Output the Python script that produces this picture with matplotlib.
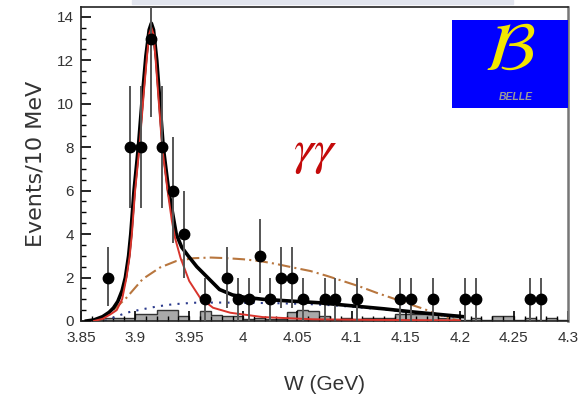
import numpy as np
import matplotlib
matplotlib.use("Agg")
import matplotlib.pyplot as plt
from matplotlib.patches import Rectangle

plt.rcParams['font.family'] = ['Liberation Sans', 'DejaVu Sans']
plt.rcParams['mathtext.fontset'] = 'stix'

# data points (10 MeV bins)
w_points = [3.875, 3.895, 3.905, 3.915, 3.925, 3.935, 3.945, 3.965, 3.985, 3.995,
            4.005, 4.015, 4.025, 4.035, 4.045, 4.055, 4.075, 4.085, 4.105, 4.145,
            4.155, 4.175, 4.205, 4.215, 4.265, 4.275]
n_events = [2, 8, 8, 13, 8, 6, 4, 1, 2, 1,
            1, 3, 1, 2, 2, 1, 1, 1, 1, 1,
            1, 1, 1, 1, 1, 1]
err_low = [1.3, 2.8, 2.8, 3.6, 2.8, 2.4, 2.0, 1.0, 1.4, 1.0,
           1.0, 1.7, 1.0, 1.4, 1.4, 1.0, 1.0, 1.0, 1.0, 1.0,
           1.0, 1.0, 1.0, 1.0, 1.0, 1.0]
err_high = [1.4, 2.8, 2.8, 3.6, 2.8, 2.45, 2.0, 1.0, 1.4, 1.0,
            1.0, 1.7, 1.0, 1.4, 1.4, 1.0, 1.0, 1.0, 1.0, 1.0,
            1.0, 1.0, 1.0, 1.0, 1.0, 1.0]

# sideband histogram (10 MeV bins from 3.85)
hist_vals = [0, 0, 0.12, 0.12, 0.12, 0.34, 0.34, 0.49, 0.49, 0.23,
             0.0, 0.46, 0.28, 0.23, 0.23, 0.10, 0.15, 0.10, 0.10, 0.41,
             0.50, 0.46, 0.23, 0.05, 0.15, 0.10, 0.15, 0.15, 0.15, 0.30,
             0.30, 0.32, 0.30, 0.12, 0.28, 0.03, 0.15, 0.05, 0.23, 0.23,
             0.03, 0.12, 0.05, 0.12, 0.05]

# total fit (black)
fit_x = [3.855, 3.862, 3.870, 3.876, 3.880, 3.884, 3.888, 3.891, 3.894, 3.896,
         3.899, 3.903, 3.907, 3.910, 3.913, 3.915, 3.917, 3.920, 3.923, 3.926,
         3.931, 3.938, 3.943, 3.949, 3.957, 3.967, 3.978, 3.990, 4.000, 4.018,
         4.043, 4.070, 4.100, 4.130, 4.160, 4.190, 4.203]
fit_y = [0.0, 0.05, 0.2, 0.4, 0.6, 0.9, 1.4, 2.0, 3.0, 4.0,
         6.0, 8.0, 10.5, 12.2, 13.4, 13.7, 13.4, 12.0, 10.0, 8.0,
         6.0, 4.0, 3.4, 3.0, 2.5, 2.0, 1.45, 1.2, 1.1, 1.0,
         0.92, 0.84, 0.70, 0.56, 0.40, 0.26, 0.2]

# signal (red)
sig_x = [3.862, 3.870, 3.877, 3.883, 3.888, 3.892, 3.895, 3.897, 3.900, 3.904,
         3.908, 3.911, 3.913, 3.915, 3.917, 3.919, 3.922, 3.925, 3.930, 3.934,
         3.937, 3.942, 3.950, 3.960, 3.972, 3.988, 4.018, 4.064, 4.120, 4.200]
sig_y = [0.0, 0.1, 0.3, 0.5, 1.0, 2.0, 3.0, 4.0, 6.0, 8.0,
         10.5, 12.2, 13.2, 13.5, 13.2, 12.0, 10.0, 8.0, 6.0, 4.6,
         3.8, 2.9, 1.84, 1.07, 0.61, 0.38, 0.18, 0.08, 0.05, 0.03]

# broad component (dash-dot)
broad_x = [3.862, 3.870, 3.880, 3.892, 3.907, 3.923, 3.938, 3.954, 3.970, 3.985,
           4.000, 4.015, 4.030, 4.046, 4.062, 4.077, 4.092, 4.108, 4.123, 4.139,
           4.154, 4.167, 4.179, 4.191, 4.200]
broad_y = [0.0, 0.1, 0.5, 1.07, 1.93, 2.46, 2.76, 2.89, 2.92, 2.89,
           2.84, 2.76, 2.63, 2.46, 2.3, 2.08, 1.84, 1.58, 1.3, 1.03,
           0.77, 0.55, 0.31, 0.12, 0.0]

# background (dotted)
bkg_x = [3.872, 3.877, 3.885, 3.892, 3.900, 3.907, 3.915, 3.923, 3.935, 3.954,
         3.975, 4.000, 4.030, 4.060, 4.080, 4.100, 4.130, 4.160, 4.200]
bkg_y = [0.0, 0.1, 0.25, 0.38, 0.47, 0.54, 0.62, 0.69, 0.77, 0.84,
         0.85, 0.84, 0.82, 0.78, 0.73, 0.66, 0.53, 0.38, 0.17]

x_ticks = [3.85, 3.9, 3.95, 4.0, 4.05, 4.1, 4.15, 4.2, 4.25, 4.3]
x_ticklabels = ["3.85", "3.9", "3.95", "4", "4.05", "4.1", "4.15", "4.2", "4.25", "4.3"]
y_ticks = [0, 2, 4, 6, 8, 10, 12, 14]

fig = plt.figure(figsize=(5.8, 4.0), dpi=100)
ax = fig.add_axes([81 / 580, 1 - 321 / 400, 487 / 580, 314 / 400])

edges = np.round(3.85 + 0.01 * np.arange(len(hist_vals) + 1), 3)
ax.stairs(hist_vals, edges, fill=True, color='#a9a9a9', zorder=1)
ax.stairs(hist_vals, edges, color='#333333', lw=1.0, baseline=0, zorder=1.5)

ax.plot(bkg_x, bkg_y, ls=(0, (1, 3)), color='#2b3a8c', lw=1.5, zorder=2)
ax.plot(broad_x, broad_y, ls=(0, (6, 2, 1, 2)), color='#b8763e', lw=1.5, zorder=2)
ax.plot(fit_x, fit_y, color='black', lw=2.6, zorder=3)
ax.plot(sig_x, sig_y, color='#d8342c', lw=1.4, zorder=3.5)

ax.errorbar(w_points, n_events, yerr=[err_low, err_high], xerr=0.004,
            fmt='o', color='black', ms=7.5, ecolor='#555555', elinewidth=1.4,
            capsize=0, zorder=4)

ax.set_xlim(3.85, 4.3)
ax.set_ylim(0, 14.45)
ax.set_xticks(x_ticks)
ax.set_xticklabels(x_ticklabels)
ax.set_xticks(np.round(np.arange(3.85, 4.30, 0.01), 3), minor=True)
ax.set_yticks(y_ticks)
ax.set_yticks(np.arange(0, 14.5, 0.5), minor=True)
ax.tick_params(axis='both', which='major', direction='in', length=7, width=1.2,
               labelsize=11, labelcolor='#333333', pad=5)
ax.tick_params(axis='both', which='minor', direction='in', length=3.5, width=1)
ax.tick_params(axis='x', pad=7)
for side in ['left', 'bottom', 'top']:
    ax.spines[side].set_color('#222222')
    ax.spines[side].set_linewidth(1.2)
ax.spines['right'].set_color('#777777')
ax.spines['right'].set_linewidth(1.8)

ax.set_xlabel("W (GeV)", fontsize=15, color='#333333', labelpad=22)
ax.set_ylabel("Events/10 MeV", fontsize=16, color='#333333', family='DejaVu Sans',
              labelpad=8)

ax.text(0.48, 0.535, r'$\gamma\gamma$', transform=ax.transAxes, fontsize=36,
        color='#c40a0a', ha='center', va='center')

# Belle logo
logo = fig.add_axes([452 / 580, 1 - 108 / 400, 116 / 580, 88 / 400])
logo.set_facecolor('#0000ff')
logo.set_xticks([])
logo.set_yticks([])
for s in logo.spines.values():
    s.set_visible(False)
logo.text(0.5, 0.64, r'$\mathcal{B}$', fontsize=50, color='#f2e600',
          ha='center', va='center', transform=logo.transAxes)
logo.text(0.55, 0.13, 'BELLE', fontsize=7.5, color='#9a9a9a', style='italic',
          weight='bold', ha='center', va='center', transform=logo.transAxes)

fig.patches.append(Rectangle((132 / 580, 1 - 4 / 400), 381 / 580, 4 / 400,
                             transform=fig.transFigure, color='#e2e5ee', zorder=0))

fig.savefig("out.png", dpi=100)
